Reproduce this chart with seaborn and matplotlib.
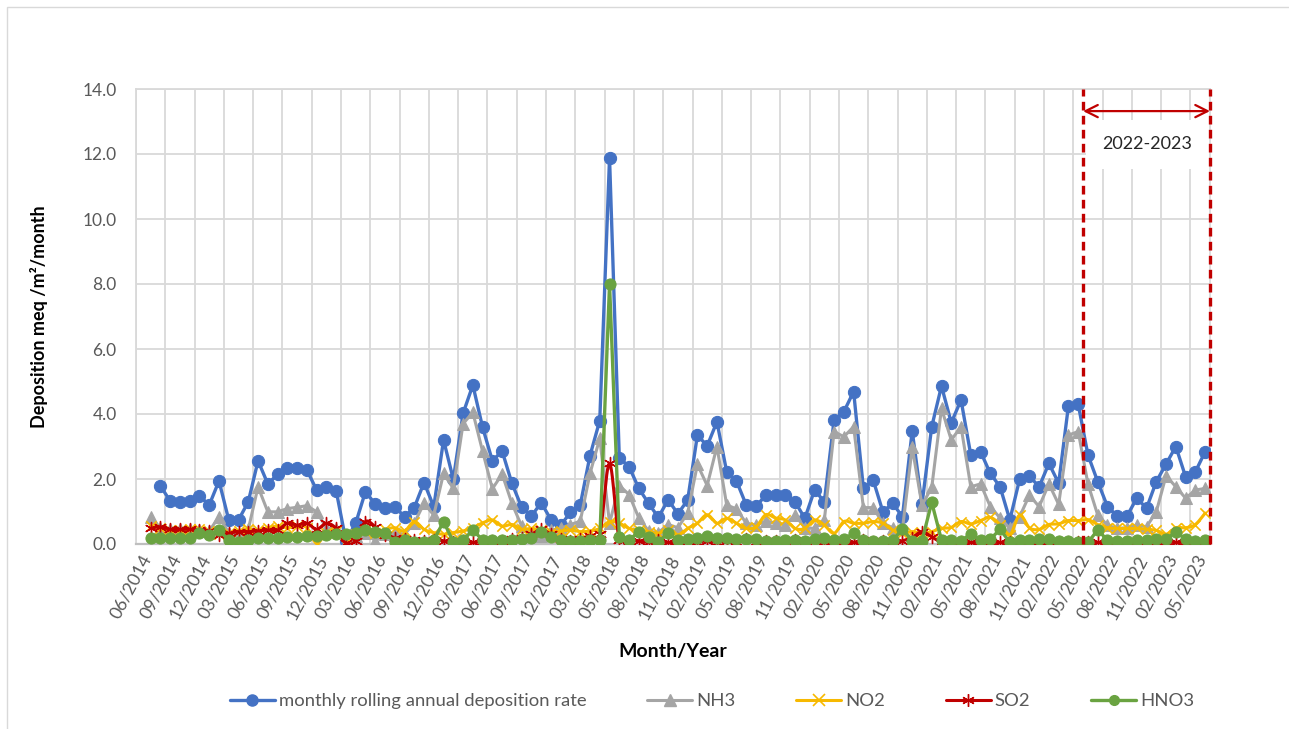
import numpy as np
import pandas as pd
import matplotlib
matplotlib.use("Agg")
import matplotlib.pyplot as plt
import seaborn as sns
from matplotlib.lines import Line2D
from matplotlib.patches import Rectangle

nan = np.nan

# Category axis: one slot per month, a label on every third slot
tick_labels = ["06/2014", "09/2014", "12/2014", "03/2015", "06/2015", "09/2015",
               "12/2015", "03/2016", "06/2016", "09/2016", "12/2016", "03/2017",
               "06/2017", "09/2017", "12/2017", "03/2018", "05/2018", "08/2018",
               "11/2018", "02/2019", "05/2019", "08/2019", "11/2019", "02/2020",
               "05/2020", "08/2020", "11/2020", "02/2021", "05/2021", "08/2021",
               "11/2021", "02/2022", "05/2022", "08/2022", "11/2022", "02/2023",
               "05/2023"]
n_slots = 110

rolling_rate = [nan, nan, 1.79, 1.32, 1.30, 1.33, 1.48, 1.20, 1.94, 0.74,
                0.74, 1.30, 2.56, 1.85, 2.14, 2.35, 2.35, 2.28, 1.66, 1.76,
                1.64, 0.10, 0.64, 1.61, 1.23, 1.10, 1.15, 0.84, 1.12, 1.89,
                1.15, 3.20, 1.99, 4.02, 4.89, 3.59, 2.56, 2.86, 1.87, 1.13,
                0.86, 1.27, 0.75, 0.58, 0.97, 1.20, 2.72, 3.80, 11.88, 2.65,
                2.38, 1.71, 1.25, 0.82, 1.36, 0.93, 1.35, 3.35, 3.02, 3.76,
                2.22, 1.94, 1.20, 1.16, 1.50, 1.50, 1.50, 1.30, 0.79, 1.66,
                1.30, 3.82, 4.07, 4.69, 1.71, 1.97, 0.99, 1.25, 0.84, 3.48,
                1.22, 3.61, 4.86, 3.73, 4.43, 2.74, 2.84, 2.17, 1.76, 0.74,
                1.99, 2.09, 1.76, 2.48, 1.87, 4.25, 4.30, 2.74, 1.92, 1.15,
                0.86, 0.86, 1.41, 1.10, 1.92, 2.46, 3.00, 2.07, 2.22, 2.84]

nh3 = [nan, 0.82, 0.50, 0.45, 0.45, 0.45, 0.42, 0.40, 0.84, 0.35,
       0.30, 0.45, 1.76, 0.99, 0.99, 1.09, 1.13, 1.18, 0.99, 0.50,
       0.45, 0.02, 0.25, 0.35, 0.10, 0.30, 0.35, 0.30, 0.64, 1.25,
       0.89, 2.17, 1.71, 3.70, 4.05, 2.85, 1.70, 2.15, 1.25, 0.55,
       0.30, 0.25, 0.43, 0.48, 0.60, 0.70, 2.17, 3.25, 0.64, 1.80,
       1.52, 0.80, 0.40, 0.35, 0.60, 0.50, 0.95, 2.45, 1.80, 3.00,
       1.20, 1.08, 0.64, 0.58, 0.70, 0.65, 0.60, 0.89, 0.50, 0.48,
       0.74, 3.46, 3.30, 3.61, 1.12, 1.12, 0.64, 0.50, 0.45, 2.97,
       1.20, 1.74, 4.17, 3.20, 3.61, 1.76, 1.85, 1.15, 0.80, 0.48,
       0.84, 1.50, 1.15, 1.85, 1.22, 3.35, 3.46, 1.85, 0.89, 0.58,
       0.48, 0.50, 0.58, 0.53, 0.99, 2.10, 1.76, 1.41, 1.66, 1.71]

no2 = [nan, 0.55, 0.50, 0.42, 0.42, 0.45, 0.45, 0.40, 0.30, 0.35,
       0.40, 0.45, 0.42, 0.50, 0.55, 0.50, 0.55, 0.50, 0.02, 0.35,
       0.40, 0.02, 0.30, 0.40, 0.35, 0.45, 0.50, 0.40, 0.69, 0.45,
       0.35, 0.30, 0.35, 0.40, 0.50, 0.65, 0.74, 0.55, 0.60, 0.45,
       0.48, 0.43, 0.38, 0.40, 0.43, 0.38, 0.40, 0.48, 0.69, 0.64,
       0.48, 0.43, 0.38, 0.33, 0.43, 0.28, 0.48, 0.64, 0.90, 0.64,
       0.79, 0.64, 0.48, 0.53, 0.90, 0.80, 0.74, 0.48, 0.48, 0.74,
       0.58, 0.33, 0.69, 0.64, 0.64, 0.69, 0.64, 0.43, 0.33, 0.38,
       0.33, 0.38, 0.48, 0.51, 0.69, 0.62, 0.72, 0.82, 0.60, 0.28,
       0.89, 0.50, 0.45, 0.60, 0.62, 0.72, 0.72, 0.75, 0.60, 0.50,
       0.48, 0.48, 0.48, 0.45, 0.42, 0.30, 0.50, 0.50, 0.60, 0.95]

so2 = [nan, 0.48, 0.53, 0.45, 0.45, 0.45, 0.43, 0.40, 0.28, 0.33,
       0.38, 0.38, 0.40, 0.43, 0.43, 0.64, 0.58, 0.64, 0.45, 0.64,
       0.48, 0.02, 0.10, 0.69, 0.53, 0.28, 0.20, 0.15, 0.12, 0.10,
       0.12, 0.10, 0.05, 0.10, 0.05, 0.08, 0.10, 0.10, 0.15, 0.20,
       0.30, 0.45, 0.30, 0.15, 0.10, 0.15, 0.25, 0.30, 2.48, 0.12,
       0.08, 0.10, 0.05, 0.12, 0.05, 0.05, 0.08, 0.05, 0.10, 0.05,
       0.10, 0.05, 0.15, 0.05, 0.10, 0.08, 0.05, 0.12, 0.05, 0.10,
       0.05, 0.05, 0.05, 0.05, 0.12, 0.05, 0.10, 0.05, 0.10, 0.20,
       0.38, 0.22, 0.05, 0.05, 0.05, 0.05, 0.05, 0.05, 0.05, 0.05,
       0.05, 0.05, 0.05, 0.05, 0.05, 0.05, 0.05, 0.05, 0.05, 0.05,
       0.05, 0.05, 0.05, 0.05, 0.05, 0.05, 0.05, 0.05, 0.05, 0.05]

hno3 = [nan, 0.17, 0.20, 0.20, 0.20, 0.20, 0.33, 0.28, 0.43, 0.12,
        0.07, 0.12, 0.17, 0.20, 0.20, 0.22, 0.22, 0.25, 0.25, 0.28,
        0.30, 0.30, 0.33, 0.43, 0.38, 0.33, 0.07, 0.12, 0.07, 0.07,
        0.12, 0.69, 0.07, 0.12, 0.43, 0.12, 0.12, 0.12, 0.12, 0.15,
        0.20, 0.38, 0.22, 0.12, 0.10, 0.10, 0.12, 0.12, 8.00, 0.22,
        0.12, 0.38, 0.22, 0.07, 0.33, 0.12, 0.15, 0.20, 0.25, 0.20,
        0.20, 0.15, 0.15, 0.15, 0.10, 0.10, 0.12, 0.12, 0.10, 0.15,
        0.20, 0.12, 0.15, 0.33, 0.12, 0.10, 0.10, 0.12, 0.45, 0.10,
        0.10, 1.28, 0.12, 0.12, 0.10, 0.30, 0.12, 0.15, 0.45, 0.05,
        0.12, 0.12, 0.15, 0.15, 0.10, 0.10, 0.05, 0.05, 0.43, 0.12,
        0.10, 0.10, 0.12, 0.12, 0.15, 0.15, 0.38, 0.15, 0.10, 0.12]

period_label = "2022-2023"
period_start_slot = 97

C_BLUE = "#4472C4"
C_GRAY = "#A5A5A5"
C_GOLD = "#F7B900"
C_RED = "#C00000"
C_GREEN = "#6AA341"
C_TEXT = "#595959"
C_GRID = "#D9D9D9"


def smooth_curve(x, y, steps=14):
    """Cubic Bezier smoothing through the points (Catmull-Rom style)."""
    x = np.asarray(x, float)
    y = np.asarray(y, float)
    xs, ys = [], []
    n = len(x)
    for i in range(n - 1):
        p0 = np.array([x[max(i - 1, 0)], y[max(i - 1, 0)]])
        p1 = np.array([x[i], y[i]])
        p2 = np.array([x[i + 1], y[i + 1]])
        p3 = np.array([x[min(i + 2, n - 1)], y[min(i + 2, n - 1)]])
        c1 = p1 + (p2 - p0) / 6.0
        c2 = p2 - (p3 - p1) / 6.0
        t = np.linspace(0, 1, steps, endpoint=(i == n - 2))[:, None]
        pts = ((1 - t) ** 3) * p1 + 3 * ((1 - t) ** 2) * t * c1 + \
            3 * (1 - t) * t ** 2 * c2 + t ** 3 * p2
        xs.append(pts[:, 0])
        ys.append(pts[:, 1])
    return np.concatenate(xs), np.concatenate(ys)


sns.set_theme(style="white")
plt.rcParams["font.family"] = ["Lato", "DejaVu Sans"]

slots = np.arange(n_slots)
df = pd.DataFrame({"slot": slots, "rate": rolling_rate, "NH3": nh3,
                   "NO2": no2, "SO2": so2, "HNO3": hno3})

fig = plt.figure(figsize=(12.89, 7.29), dpi=100)
ax = fig.add_axes([136 / 1289, 1 - 544 / 729, 1074 / 1289, 455 / 729])

# outer chart frame
fig.patches.append(Rectangle((7 / 1289, -0.02), 1.2, 1 - 7 / 729 + 0.02,
                             transform=fig.transFigure, fill=False,
                             edgecolor=C_GRID, linewidth=1.0))

# grid
for b in np.arange(-0.5, n_slots - 0.5, 3):
    ax.axvline(b, color=C_GRID, lw=1.3, zorder=0)
for yv in np.arange(2, 15, 2):
    ax.axhline(yv, color=C_GRID, lw=1.3, zorder=0)

# series, drawn in legend order
sns.lineplot(data=df, x="slot", y="rate", ax=ax, color=C_BLUE, lw=2.4,
             marker="o", markersize=8.8, markeredgecolor=C_BLUE, zorder=3)
sns.lineplot(data=df, x="slot", y="NH3", ax=ax, color=C_GRAY, lw=2.2,
             marker="^", markersize=8.5, markeredgecolor=C_GRAY, zorder=4)

d_no2 = df.dropna(subset=["NO2"])
sx, sy = smooth_curve(d_no2["slot"], d_no2["NO2"])
sns.lineplot(x=sx, y=sy, ax=ax, color=C_GOLD, lw=2.2, sort=False,
             estimator=None, zorder=5)
sns.scatterplot(data=d_no2, x="slot", y="NO2", ax=ax, marker="x", s=55,
                color=C_GOLD, linewidth=1.2, zorder=5)

d_so2 = df.dropna(subset=["SO2"])
sx, sy = smooth_curve(d_so2["slot"], d_so2["SO2"])
sns.lineplot(x=sx, y=sy, ax=ax, color=C_RED, lw=2.2, sort=False,
             estimator=None, zorder=6)
sns.scatterplot(data=d_so2, x="slot", y="SO2", ax=ax, marker=(6, 2, 0), s=75,
                color=C_RED, edgecolor=C_RED, linewidth=1.0, zorder=6)

sns.lineplot(data=df, x="slot", y="HNO3", ax=ax, color=C_GREEN, lw=2.4,
             marker="o", markersize=8, markeredgecolor=C_GREEN, zorder=7)

# axes
ax.set_xlim(-0.5, n_slots - 0.5)
ax.set_ylim(0, 14)
ax.set_yticks(np.arange(0, 15, 2))
ax.set_yticklabels([f"{v:.1f}" for v in np.arange(0, 15, 2)])
ax.set_xticks(np.arange(0, 3 * len(tick_labels), 3))
ax.set_xticklabels(tick_labels, rotation=62, ha="right",
                   rotation_mode="anchor")
ax.tick_params(axis="y", length=0, pad=14, labelsize=12.5, labelcolor=C_TEXT)
ax.tick_params(axis="x", length=0, pad=6, labelsize=12.8, labelcolor=C_TEXT)
for side in ["top", "right", "left"]:
    ax.spines[side].set_color(C_GRID)
    ax.spines[side].set_linewidth(1.3)
ax.spines["bottom"].set_color("#BFBFBF")
ax.spines["bottom"].set_linewidth(1.6)

ax.set_xlabel("Month/Year", fontsize=14, fontweight="bold", color="#000000")
ax.xaxis.set_label_coords(0.5, -0.218)
ax.set_ylabel("Deposition meq /m²/month", fontsize=13, fontweight="bold",
              color="#000000")
ax.yaxis.set_label_coords(-0.082, 0.5)

# highlighted period
x0 = period_start_slot - 0.5
x1 = n_slots - 0.5
for xv in (x0, x1):
    ax.plot([xv, xv], [0, 14], color=C_RED, lw=2.4, dashes=(2.6, 1.6),
            zorder=9, clip_on=False)
ax.annotate("", xy=(x0, 13.32), xytext=(x1, 13.32),
            arrowprops=dict(arrowstyle="<->", color=C_RED, lw=1.6,
                            mutation_scale=22, shrinkA=0, shrinkB=0),
            zorder=9)
ax.text((x0 + x1) / 2 + 0.1, 12.3, period_label, ha="center", va="center",
        fontsize=13, color="#262626", zorder=8,
        bbox=dict(boxstyle="square,pad=0.9", facecolor="white",
                  edgecolor="none"))

# legend
handles = [
    Line2D([], [], color=C_BLUE, lw=2.4, marker="o", markersize=8),
    Line2D([], [], color=C_GRAY, lw=2.2, marker="^", markersize=8),
    Line2D([], [], color=C_GOLD, lw=2.2, marker="x", markersize=8,
           markeredgewidth=1.2),
    Line2D([], [], color=C_RED, lw=2.2, marker=(6, 2, 0), markersize=9,
           markeredgewidth=1.0),
    Line2D([], [], color=C_GREEN, lw=2.4, marker="o", markersize=7),
]
names = ["monthly rolling annual deposition rate", "NH3", "NO2", "SO2", "HNO3"]
fig.legend(handles, names, loc="center", bbox_to_anchor=(712 / 1289, 1 - 701 / 729),
           ncol=5, frameon=False, fontsize=13.3, handlelength=2.44,
           handletextpad=0.2, columnspacing=3.3, labelcolor=C_TEXT)

fig.savefig("out.png", dpi=100)
